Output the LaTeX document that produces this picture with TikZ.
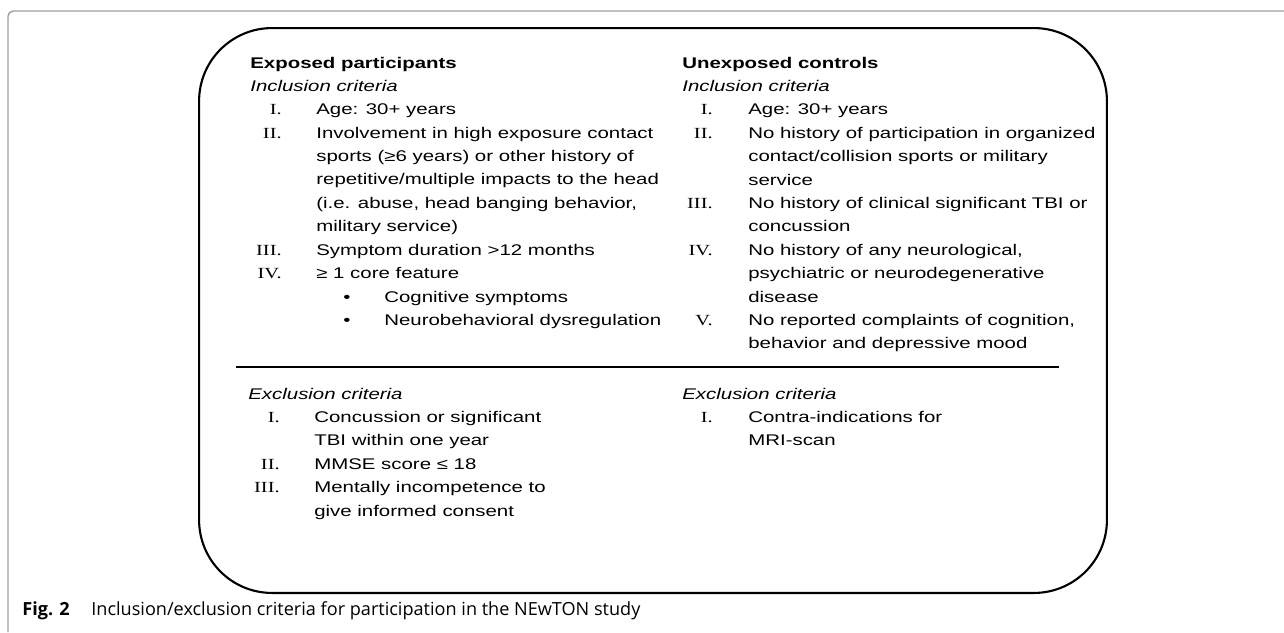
\documentclass[tikz,border=0pt]{standalone}
\usepackage{fontspec}
\usepackage{tikz}
\usetikzlibrary{positioning}
\newfontfamily\critfont{Liberation Sans}[FakeStretch=1.32]
\newfontfamily\romfont{Liberation Serif}[FakeStretch=1.32]
\newfontfamily\capfont{Open Sans}
\tikzset{
  outerframe/.style={draw=gray!75,line width=0.8pt,rounded corners=3pt},
  critbox/.style={draw,line width=1.2pt,rounded corners=1.46cm,inner sep=0pt,
                  minimum width=18.16cm,minimum height=11.3cm},
  rule/.style={line width=1.2pt},
  grphead/.style={anchor=base west,font=\critfont\fontsize{8.8pt}{13.32pt}\selectfont\bfseries},
  crithead/.style={anchor=base west,font=\critfont\fontsize{8.8pt}{13.32pt}\selectfont\itshape},
  romnum/.style={anchor=base east,font=\romfont\fontsize{8.8pt}{13.32pt}\selectfont},
  itemtxt/.style={anchor=base west,align=left,font=\critfont\fontsize{8.8pt}{13.32pt}\selectfont},
  bul/.style={anchor=base,font=\critfont\fontsize{8.8pt}{13.32pt}\selectfont},
  capt/.style={anchor=base west,font=\capfont\fontsize{10.3pt}{12pt}\selectfont},
}
\begin{document}
\begin{tikzpicture}[x=0.02cm,y=-0.02cm,every node/.style={inner sep=0pt}]
\useasboundingbox (0,0) rectangle (1284,632);
\draw[outerframe] (1284,11) -- (8,11) -- (8,632);

\node[critbox] (crit) at (653,310.5) {};
\draw[rule] (236,367) -- (1059,367);

% multi-line items sit on the baseline of their last line
\node[grphead]  (expHead) at (250,68)   {Exposed participants};
\node[crithead] (expInc)  at (250,91.4) {Inclusion criteria};
\node[romnum]  (expN1) at (282,114.8) {I.};
\node[itemtxt] (expT1) at (316,114.8) {Age: 30+ years};
\node[romnum]  (expN2) at (282,138.2) {II.};
\node[itemtxt] (expT2) at (316,231.8) {Involvement in high exposure contact\\sports (≥6 years) or other history of\\repetitive/multiple impacts to the head\\(i.e. abuse, head banging behavior,\\military service)};
\node[romnum]  (expN3) at (282,255.2) {III.};
\node[itemtxt] (expT3) at (316,255.2) {Symptom duration >12 months};
\node[romnum]  (expN4) at (282,278.6) {IV.};
\node[itemtxt] (expT4) at (316,278.6) {≥ 1 core feature};
\node[bul]     (expB1) at (347,302)   {•};
\node[itemtxt] (expC1) at (384,302)   {Cognitive symptoms};
\node[bul]     (expB2) at (347,325.4) {•};
\node[itemtxt] (expC2) at (384,325.4) {Neurobehavioral dysregulation};

\node[grphead]  (conHead) at (682,68)   {Unexposed controls};
\node[crithead] (conInc)  at (682,91.4) {Inclusion criteria};
\node[romnum]  (conN1) at (713,114.8) {I.};
\node[itemtxt] (conT1) at (748,114.8) {Age: 30+ years};
\node[romnum]  (conN2) at (713,138.2) {II.};
\node[itemtxt] (conT2) at (748,185)   {No history of participation in organized\\contact/collision sports or military\\service};
\node[romnum]  (conN3) at (713,208.4) {III.};
\node[itemtxt] (conT3) at (748,231.8) {No history of clinical significant TBI or\\concussion};
\node[romnum]  (conN4) at (713,255.2) {IV.};
\node[itemtxt] (conT4) at (748,302)   {No history of any neurological,\\psychiatric or neurodegenerative\\disease};
\node[romnum]  (conN5) at (713,325.4) {V.};
\node[itemtxt] (conT5) at (748,348.8) {No reported complaints of cognition,\\behavior and depressive mood};

\node[crithead] (expExc) at (248,399) {Exclusion criteria};
\node[romnum]  (excN1) at (280,422.4) {I.};
\node[itemtxt] (excT1) at (314,445.8) {Concussion or significant\\TBI within one year};
\node[romnum]  (excN2) at (280,469.2) {II.};
\node[itemtxt] (excT2) at (314,469.2) {MMSE score ≤ 18};
\node[romnum]  (excN3) at (280,492.6) {III.};
\node[itemtxt] (excT3) at (314,516)   {Mentally incompetence to\\give informed consent};

\node[crithead] (conExc) at (682,399) {Exclusion criteria};
\node[romnum]  (cexN1) at (713,422.4) {I.};
\node[itemtxt] (cexT1) at (748,445.8) {Contra-indications for\\MRI-scan};

\node[capt] (figNo)   at (22,615) {\bfseries Fig. 2};
\node[capt] (figText) at (91,615) {Inclusion/exclusion criteria for participation in the NEwTON study};
\end{tikzpicture}
\end{document}
